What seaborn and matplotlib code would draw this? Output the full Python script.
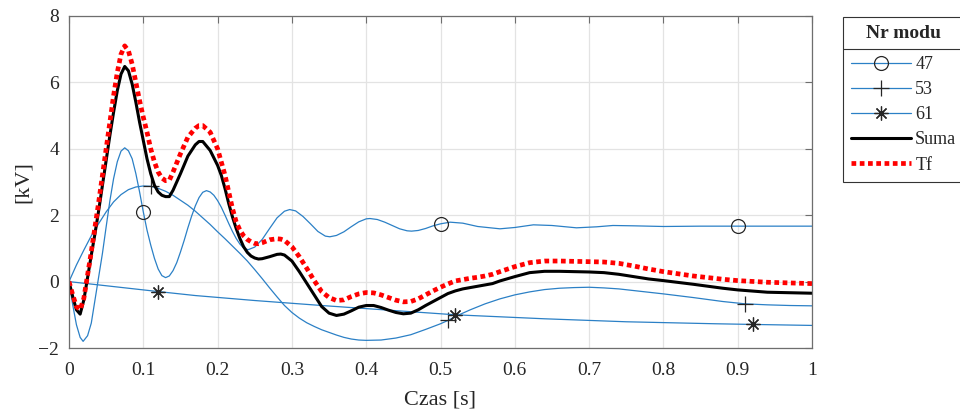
import numpy as np
import matplotlib
matplotlib.use("Agg")
import matplotlib.pyplot as plt
from matplotlib.lines import Line2D
import seaborn as sns

# mode 47
t47 = [0, 0.005, 0.01, 0.015, 0.019, 0.025, 0.03, 0.035, 0.04, 0.045, 0.05, 0.055, 0.06,
       0.065, 0.07, 0.075, 0.08, 0.085, 0.09, 0.095, 0.1, 0.105, 0.11, 0.115, 0.12, 0.125,
       0.13, 0.135, 0.14, 0.145, 0.15, 0.155, 0.16, 0.165, 0.17, 0.175, 0.18, 0.185, 0.19,
       0.195, 0.2, 0.205, 0.21, 0.215, 0.22, 0.225, 0.23, 0.235, 0.241, 0.25, 0.26, 0.27,
       0.28, 0.29, 0.297, 0.305, 0.315, 0.325, 0.335, 0.345, 0.351, 0.36, 0.37, 0.38, 0.39,
       0.4, 0.405, 0.415, 0.425, 0.435, 0.445, 0.455, 0.461, 0.47, 0.48, 0.49, 0.5, 0.513,
       0.53, 0.55, 0.58, 0.6, 0.625, 0.65, 0.683, 0.71, 0.732, 0.76, 0.8, 0.85, 0.9, 0.95, 1.0]
v47 = [0, -0.7, -1.3, -1.68, -1.8, -1.63, -1.25, -0.55, 0.15, 0.85, 1.65, 2.43, 3.1,
       3.61, 3.93, 4.03, 3.94, 3.7, 3.25, 2.7, 2.1, 1.55, 1.1, 0.7, 0.38, 0.18,
       0.12, 0.17, 0.33, 0.57, 0.89, 1.24, 1.62, 1.97, 2.28, 2.53, 2.69, 2.74, 2.70,
       2.60, 2.44, 2.24, 2.0, 1.75, 1.51, 1.30, 1.13, 1.01, 0.96, 1.04, 1.27, 1.6,
       1.92, 2.12, 2.17, 2.13, 1.96, 1.74, 1.51, 1.37, 1.35, 1.39, 1.5, 1.655, 1.8,
       1.89, 1.9, 1.87, 1.79, 1.69, 1.59, 1.53, 1.52, 1.54, 1.6, 1.68, 1.74, 1.79,
       1.76, 1.66, 1.59, 1.63, 1.71, 1.69, 1.62, 1.65, 1.69, 1.68, 1.66, 1.67, 1.67, 1.67, 1.67]

# mode 53
t53 = [0, 0.01, 0.02, 0.03, 0.04, 0.05, 0.06, 0.07, 0.08, 0.09, 0.1, 0.11, 0.12, 0.13, 0.14,
       0.15, 0.16, 0.17, 0.18, 0.19, 0.2, 0.21, 0.22, 0.23, 0.24, 0.25, 0.26, 0.27, 0.28,
       0.29, 0.3, 0.31, 0.32, 0.33, 0.34, 0.35, 0.36, 0.37, 0.38, 0.39, 0.4, 0.42, 0.44,
       0.46, 0.48, 0.5, 0.51, 0.52, 0.54, 0.56, 0.58, 0.6, 0.62, 0.64, 0.66, 0.68, 0.7,
       0.72, 0.74, 0.76, 0.8, 0.84, 0.88, 0.91, 0.94, 0.97, 1.0]
v53 = [0, 0.5, 0.95, 1.38, 1.75, 2.1, 2.4, 2.62, 2.77, 2.85, 2.88, 2.87, 2.81, 2.72, 2.6,
       2.45, 2.3, 2.12, 1.92, 1.72, 1.5, 1.29, 1.07, 0.85, 0.62, 0.36, 0.09, -0.19, -0.46,
       -0.72, -0.93, -1.1, -1.24, -1.35, -1.45, -1.53, -1.61, -1.68, -1.73, -1.76, -1.77,
       -1.76, -1.7, -1.6, -1.44, -1.27, -1.17, -1.05, -0.85, -0.67, -0.52, -0.4, -0.31,
       -0.24, -0.2, -0.18, -0.17, -0.19, -0.22, -0.27, -0.37, -0.48, -0.6, -0.67, -0.7,
       -0.72, -0.73]

# mode 61
t61 = [0, 0.06, 0.12, 0.17, 0.25, 0.34, 0.43, 0.52, 0.64, 0.75, 0.87, 0.92, 1.0]
v61 = [0, -0.15, -0.3, -0.42, -0.57, -0.72, -0.86, -1.0, -1.12, -1.21, -1.27, -1.29, -1.32]

# sum of modes and Tf
t_tot = [0, 0.005, 0.01, 0.015, 0.02, 0.025, 0.03, 0.035, 0.04, 0.045, 0.05, 0.055, 0.06,
         0.065, 0.07, 0.075, 0.08, 0.085, 0.09, 0.095, 0.1, 0.105, 0.11, 0.115, 0.12, 0.125,
         0.13, 0.135, 0.14, 0.15, 0.16, 0.17, 0.175, 0.18, 0.19, 0.2, 0.205, 0.21, 0.215,
         0.22, 0.225, 0.23, 0.235, 0.24, 0.245, 0.25, 0.255, 0.26, 0.27, 0.28, 0.285, 0.29,
         0.3, 0.31, 0.32, 0.33, 0.34, 0.35, 0.36, 0.37, 0.38, 0.39, 0.4, 0.41, 0.42, 0.43,
         0.44, 0.45, 0.46, 0.47, 0.48, 0.49, 0.5, 0.51, 0.52, 0.53, 0.54, 0.55, 0.56, 0.57,
         0.58, 0.6, 0.62, 0.64, 0.66, 0.68, 0.7, 0.72, 0.74, 0.76, 0.78, 0.8, 0.84, 0.88,
         0.9, 0.94, 1.0]
v_sum = [0, -0.45, -0.85, -0.98, -0.55, 0.12, 0.8, 1.45, 2.15, 2.9, 3.65, 4.4, 5.1,
         5.75, 6.25, 6.48, 6.35, 5.95, 5.4, 4.8, 4.25, 3.7, 3.25, 2.9, 2.7, 2.6,
         2.56, 2.56, 2.75, 3.25, 3.78, 4.12, 4.22, 4.22, 3.95, 3.5, 3.2, 2.8, 2.35,
         1.95, 1.6, 1.3, 1.05, 0.88, 0.77, 0.71, 0.68, 0.69, 0.75, 0.82, 0.83, 0.8,
         0.62, 0.3, -0.05, -0.4, -0.75, -0.95, -1.02, -0.98, -0.88, -0.77, -0.72, -0.72,
         -0.78, -0.86, -0.93, -0.97, -0.95, -0.85, -0.72, -0.6, -0.48, -0.36, -0.28, -0.22,
         -0.18, -0.14, -0.1, -0.06, 0.02, 0.15, 0.27, 0.31, 0.31, 0.3, 0.29, 0.27, 0.22,
         0.15, 0.08, 0.03, -0.08, -0.2, -0.25, -0.32, -0.35]
v_tf = [0, -0.4, -0.75, -0.85, -0.5, 0.2, 0.9, 1.65, 2.4, 3.2, 4.0, 4.8, 5.6,
        6.3, 6.85, 7.1, 6.95, 6.55, 6.0, 5.45, 4.95, 4.5, 4.0, 3.6, 3.3, 3.12,
        3.04, 3.05, 3.3, 3.85, 4.35, 4.62, 4.7, 4.7, 4.5, 4.0, 3.6, 3.2, 2.7,
        2.2, 1.8, 1.55, 1.38, 1.27, 1.2, 1.15, 1.14, 1.17, 1.26, 1.29, 1.28, 1.24,
        1.05, 0.75, 0.4, 0.03, -0.3, -0.48, -0.57, -0.55, -0.45, -0.37, -0.33, -0.34,
        -0.4, -0.48, -0.56, -0.61, -0.6, -0.52, -0.4, -0.28, -0.17, -0.07, 0.02, 0.06,
        0.1, 0.13, 0.17, 0.22, 0.3, 0.45, 0.57, 0.62, 0.62, 0.61, 0.6, 0.59, 0.55,
        0.47, 0.38, 0.3, 0.17, 0.07, 0.03, -0.02, -0.06]

x_ticks = [0, 0.1, 0.2, 0.3, 0.4, 0.5, 0.6, 0.7, 0.8, 0.9, 1]
x_labels = ["0", "0.1", "0.2", "0.3", "0.4", "0.5", "0.6", "0.7", "0.8", "0.9", "1"]
y_ticks = [-2, 0, 2, 4, 6, 8]
labels = ["47", "53", "61", "Suma", "Tf"]

sns.set_style("white")
plt.rcParams['font.family'] = ['Liberation Serif', 'DejaVu Serif']

BLUE = '#2b80c6'
MK = '#262626'
ASTER = (8, 2, 0)


def mark_idx(t, at):
    t = np.asarray(t)
    return [int(np.argmin(np.abs(t - a))) for a in at]


fig = plt.figure(figsize=(9.6, 4.15), dpi=100)
ax = fig.add_axes([69 / 960, 1 - 348 / 415, 743 / 960, 332 / 415])

# modes (blue, thin) with black markers
sns.lineplot(x=t47, y=v47, ax=ax, color=BLUE, lw=0.9, estimator=None, sort=False,
             marker='o', markevery=mark_idx(t47, [0.1, 0.5, 0.9]), ms=10,
             mfc='none', mec=MK, mew=0.9)
sns.lineplot(x=t53, y=v53, ax=ax, color=BLUE, lw=0.9, estimator=None, sort=False,
             marker='+', markevery=mark_idx(t53, [0.11, 0.51, 0.91]), ms=12,
             mec=MK, mew=0.9)
sns.lineplot(x=t61, y=v61, ax=ax, color=BLUE, lw=0.9, estimator=None, sort=False,
             marker=ASTER, markevery=mark_idx(t61, [0.12, 0.52, 0.92]), ms=10,
             mec=MK, mew=0.9)
sns.lineplot(x=t_tot, y=v_sum, ax=ax, color='black', lw=2.2, estimator=None, sort=False)
sns.lineplot(x=t_tot, y=v_tf, ax=ax, color='red', lw=3.4, estimator=None, sort=False,
             linestyle=(0, (1, 0.75)), dash_capstyle='butt')

ax.set_xlim(0, 1)
ax.set_ylim(-2, 8)
ax.set_xticks(x_ticks)
ax.set_xticklabels(x_labels)
ax.set_yticks(y_ticks)
ax.grid(True, color='#e3e3e3', lw=0.9)
ax.set_axisbelow(True)
for s in ax.spines.values():
    s.set_color('#6e6e6e')
    s.set_linewidth(0.9)
ax.tick_params(direction='in', top=True, right=True, length=5, width=0.8,
               color='#6e6e6e', labelcolor='#262626', labelsize=14)
ax.tick_params(axis='x', pad=10)
ax.tick_params(axis='y', pad=7)
ax.set_xlabel("Czas [s]", fontsize=16, color='#262626', labelpad=8)
ax.set_ylabel("[kV]", fontsize=16, color='#262626', labelpad=4)

handles = [
    Line2D([], [], color=BLUE, lw=0.9, marker='o', ms=10, mfc='none', mec=MK, mew=0.9),
    Line2D([], [], color=BLUE, lw=0.9, marker='+', ms=12, mec=MK, mew=0.9),
    Line2D([], [], color=BLUE, lw=0.9, marker=ASTER, ms=10, mec=MK, mew=0.9),
    Line2D([], [], color='black', lw=2.2),
    Line2D([], [], color='red', lw=3.4, linestyle=(0, (1, 0.75)), dash_capstyle='butt'),
]
leg = fig.legend(handles, labels, loc='upper left',
                 bbox_to_anchor=(843 / 960, 1 - 17 / 415), bbox_transform=fig.transFigure,
                 title="Nr modu", title_fontproperties={'weight': 'bold', 'size': 14},
                 fontsize=13, frameon=True, fancybox=False, edgecolor='#333333',
                 framealpha=1, handlelength=3.3, handletextpad=0.25, labelspacing=0.45,
                 borderpad=0.45, borderaxespad=0)
leg.get_frame().set_linewidth(0.8)
leg._legend_box.sep = 10

# separator line under the legend title
fig.canvas.draw()
r = fig.canvas.get_renderer()
fb = leg.get_frame().get_window_extent(r)
tb = leg.get_title().get_window_extent(r)
first = leg.get_texts()[0].get_window_extent(r)
ysep = (tb.y0 + first.y1) / 2
fig.add_artist(Line2D([fb.x0 / 960, fb.x1 / 960], [ysep / 415, ysep / 415],
                      transform=fig.transFigure, color='#333333', lw=0.8, zorder=10))

fig.savefig("out.png", dpi=100)
